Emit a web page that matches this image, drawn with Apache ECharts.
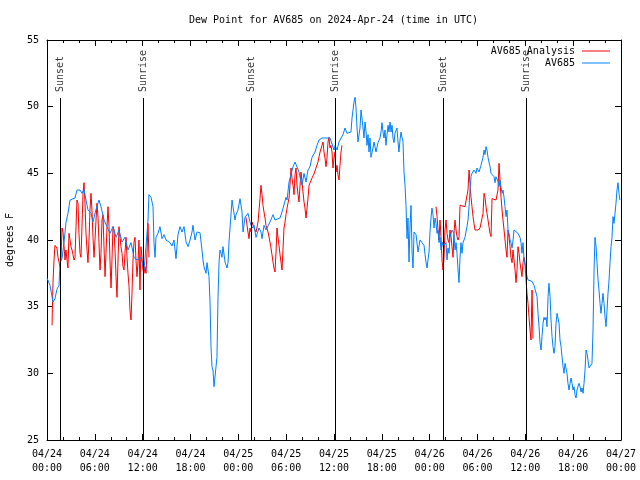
<!DOCTYPE html>
<html><head><meta charset="utf-8">
<script src="https://cdn.jsdelivr.net/npm/echarts@6/dist/echarts.min.js"></script>
<style>html,body{margin:0;padding:0;background:#fff}#c{width:640px;height:480px}</style>
</head><body><div id="c"></div>
<script>
// Hours since 2024-04-24 00:00 UTC
const blueHours = [0,0.38,0.75,1.0,1.25,1.51,1.63,1.88,2.13,2.38,2.63,2.89,3.14,3.51,3.76,4.14,4.39,4.64,4.89,5.14,5.52,5.77,6.15,6.52,6.77,7.15,7.53,7.90,8.28,8.66,9.03,9.41,9.78,10.16,10.54,10.91,11.29,11.79,12.17,12.42,12.67,12.79,13.05,13.30,13.42,13.55,13.67,13.92,14.17,14.43,14.68,14.93,15.43,15.68,15.93,16.18,16.43,16.68,16.93,17.19,17.44,17.69,17.94,18.19,18.31,18.57,18.82,19.19,19.44,19.57,19.69,19.95,20.07,20.32,20.45,20.57,20.70,20.82,20.95,21.20,21.32,21.45,21.58,21.70,21.83,21.95,22.08,22.33,22.58,22.71,22.83,23.08,23.21,23.46,23.58,23.71,23.96,24.21,24.46,24.59,24.84,25.21,25.46,25.72,25.97,26.22,26.59,26.84,26.97,27.22,27.47,27.72,27.97,28.35,28.60,28.73,29.23,29.48,29.73,29.98,30.11,30.36,30.61,30.86,31.11,31.36,31.61,31.74,31.99,32.24,32.49,32.74,32.99,33.24,33.62,33.87,34.12,34.50,35.50,35.75,36.0,36.13,36.38,36.63,36.88,37.13,37.38,37.63,37.88,38.13,38.26,38.51,38.64,38.76,38.89,39.01,39.26,39.39,39.51,39.64,39.76,39.89,40.02,40.14,40.27,40.39,40.52,40.64,40.89,41.02,41.27,41.52,41.77,41.90,42.02,42.15,42.27,42.40,42.52,42.65,42.78,42.90,43.03,43.15,43.28,43.40,43.53,43.65,43.90,44.03,44.15,44.28,44.41,44.53,44.66,44.78,44.91,45.03,45.16,45.28,45.41,45.53,45.66,45.79,45.91,46.04,46.29,46.54,46.79,47.04,47.29,47.42,47.54,47.67,47.79,47.92,48.04,48.17,48.29,48.42,48.55,48.67,48.80,48.92,49.05,49.17,49.30,49.42,49.67,49.80,50.05,50.18,50.30,50.43,50.55,50.80,51.05,51.18,51.31,51.43,51.56,51.68,51.81,51.93,52.06,52.18,52.43,52.68,52.81,52.94,53.06,53.19,53.31,53.56,53.81,53.94,54.19,54.32,54.44,54.57,54.69,54.82,54.94,55.07,55.19,55.32,55.44,55.57,55.70,55.82,56.07,56.20,56.32,56.57,56.70,56.82,56.95,57.08,57.20,57.33,57.45,57.58,57.70,57.83,57.95,58.08,58.20,58.33,58.46,58.58,58.83,59.08,59.33,59.46,59.58,59.71,59.84,60.09,60.21,60.34,60.59,60.84,61.09,61.21,61.34,61.47,61.59,61.72,61.84,61.97,62.09,62.22,62.34,62.47,62.60,62.72,62.85,62.97,63.10,63.22,63.35,63.47,63.60,63.72,63.85,63.98,64.10,64.23,64.35,64.48,64.60,64.73,64.85,64.98,65.10,65.23,65.35,65.48,65.61,65.73,65.86,65.98,66.11,66.23,66.36,66.48,66.61,66.73,66.86,66.99,67.11,67.24,67.36,67.49,67.61,67.74,67.86,67.99,68.11,68.24,68.36,68.49,68.62,68.74,68.87,68.99,69.12,69.24,69.37,69.49,69.62,69.74,69.87,70.0,70.12,70.25,70.37,70.50,70.62,70.75,70.87,71.0,71.12,71.25,71.37,71.50,71.62,71.75,71.87];
const blueValues = [37.15,36.6,35.35,35.6,36.3,36.6,38.3,38.6,39.8,41.3,42.0,43.0,43.0,43.15,43.75,43.75,43.5,43.8,43.0,42.25,42.0,41.35,42.3,43.0,42.5,41.5,41.0,40.5,41.0,40.2,40.75,39.85,40.2,39.25,39.8,38.7,38.5,38.7,37.75,39.5,41.5,43.4,43.2,42.5,39.8,38.7,40.2,40.5,41.0,40.1,40.4,40.0,39.8,39.55,40.0,38.6,40.4,41.0,40.6,41.0,39.85,39.5,40.0,40.6,41.1,40.0,40.6,40.55,39.25,38.5,38.0,37.5,38.3,37.25,35.3,32.0,30.5,30.25,29.0,29.0,31.2,35.7,38.3,39.25,39.0,38.7,39.5,38.35,37.9,38.3,39.85,41.9,43.0,42.85,41.5,41.9,42.25,43.1,42.1,40.6,41.7,42.0,41.35,40.9,41.1,40.2,40.9,40.6,40.1,41.1,40.75,40.9,41.35,41.9,41.5,41.65,41.65,42.1,42.25,43.2,43.0,44.35,44.9,45.5,45.85,45.9,45.1,44.7,44.1,45.0,44.35,45.25,45.5,46.2,46.6,47.1,47.5,47.65,47.65,47.65,46.75,47.1,46.75,47.35,47.65,47.9,48.4,48.0,47.9,48.1,49.15,50.35,50.7,49.9,48.4,47.35,48.4,49.75,49.15,48.4,47.65,48.85,48.1,47.1,47.9,46.6,47.65,46.2,46.9,47.35,46.6,47.3,47.65,48.1,48.8,48.1,47.65,48.25,47.1,47.9,48.6,48.1,48.85,48.1,48.6,47.65,47.3,48.0,48.4,47.35,46.6,47.5,48.1,47.7,47.35,45.1,44.1,42.6,40.1,41.65,38.35,40.9,42.6,39.1,37.9,40.6,40.4,39.1,40.0,39.85,39.6,38.9,38.35,37.9,38.5,39.1,40.6,41.65,42.4,41.9,40.9,41.65,41.25,40.5,40.75,39.8,40.2,39.25,39.85,39.6,39.8,38.5,39.4,39.0,40.2,40.75,40.5,39.25,39.8,39.0,37.75,36.8,38.7,39.8,39.0,39.8,40.2,41.0,41.5,42.5,43.75,44.75,45.0,45.25,45.0,45.4,45.1,45.25,45.6,45.75,46.2,46.75,46.4,47.0,46.75,46.2,45.85,45.5,45.0,45.0,44.75,44.3,44.75,44.4,44.0,44.5,44.5,43.5,43.75,43.2,42.5,41.75,42.25,40.75,40.5,40.0,39.8,39.4,40.0,40.75,40.75,40.5,40.2,39.8,39.0,39.8,38.5,37.75,37.25,37.0,37.0,36.9,36.6,36.5,36.75,35.75,34.5,33.5,32.3,31.75,32.75,33.75,34.2,34.0,34.2,33.5,35.75,36.75,35.75,34.0,32.75,32.0,31.5,32.0,33.75,34.5,34.5,33.75,32.5,32.0,31.25,30.5,30.0,30.75,30.4,30.0,29.25,28.75,29.25,29.65,29.25,28.75,29.0,28.4,28.15,28.75,28.9,29.25,29.0,28.6,28.9,28.5,29.25,30.25,31.75,31.5,31.0,30.4,30.25,30.25,30.75,33.25,37.75,40.2,39.5,38.3,37.0,36.25,35.25,34.5,35.25,36.0,35.25,34.2,33.5,34.75,36.0,37.0,38.3,39.5,40.2,41.75,41.25,42.0,42.75,43.75,44.3,43.5,43.0];

// null value = gap between analysis segments
const redHours = [0.63,0.75,0.88,1.0,1.25,1.38,1.51,1.63,1.76,1.88,2.01,2.13,2.26,2.38,2.51,2.63,2.76,2.89,3.01,3.14,3.26,3.39,3.51,3.64,3.76,3.89,4.01,4.14,4.26,4.39,4.52,4.64,4.77,4.89,5.02,5.14,5.27,5.39,5.52,5.64,5.77,5.90,6.02,6.15,6.27,6.40,6.52,6.65,6.77,6.90,7.02,7.15,7.28,7.40,7.53,7.65,7.78,7.90,8.03,8.15,8.28,8.41,8.53,8.66,8.78,8.91,9.03,9.16,9.28,9.41,9.53,9.66,9.78,9.91,10.04,10.16,10.29,10.41,10.54,10.66,10.79,10.91,11.04,11.16,11.29,11.41,11.54,11.66,11.79,11.91,12.04,12.17,12.29,12.42,12.54,12.67,12.79,
 18.0,
 24.96,25.09,25.21,25.34,25.46,25.59,25.72,25.97,26.22,26.47,26.72,26.84,26.97,27.09,27.22,27.35,27.47,27.72,27.97,28.10,28.22,28.35,28.47,28.60,28.73,28.85,28.98,29.10,29.23,29.35,29.48,29.61,29.73,29.86,29.98,30.11,30.36,30.48,30.61,30.73,30.86,30.99,31.11,31.24,31.36,31.49,31.61,31.74,31.86,31.99,32.11,32.24,32.36,32.49,32.62,32.74,32.87,32.99,33.24,33.49,33.74,33.99,34.25,34.50,34.62,34.75,34.87,35.00,35.12,35.25,35.37,35.50,35.62,35.75,35.87,36.00,36.13,36.25,36.38,36.50,36.63,36.75,36.88,37.00,
 43.0,
 48.80,48.92,49.05,49.17,49.30,49.42,49.55,49.67,49.80,49.92,50.05,50.18,50.30,50.43,50.55,50.68,50.80,50.93,51.05,51.18,51.31,51.43,51.56,51.68,51.81,52.43,52.68,52.81,52.94,53.06,53.19,53.31,53.44,53.56,53.69,53.81,54.06,54.32,54.57,54.69,54.82,54.94,55.07,55.19,55.32,55.44,55.57,55.70,55.82,56.07,56.32,56.45,56.57,56.70,56.82,56.95,57.08,57.20,57.33,57.45,57.58,57.70,57.83,57.95,58.08,58.20,58.33,58.46,58.58,58.71,58.83,58.96,59.08,59.21,59.33,59.46,59.58,59.71,59.84,59.96,60.09,60.21,60.34,60.46,60.59,60.71,60.84,60.96];
const redValues = [33.6,36.8,38.5,39.6,39.4,38.7,38.35,38.0,38.6,40.9,40.6,39.6,38.5,39.25,38.5,37.9,40.5,40.0,39.5,39.25,38.9,38.5,38.7,41.0,43.0,42.75,40.5,39.0,38.7,41.0,43.5,44.3,42.75,40.5,39.25,38.3,40.0,42.25,43.5,42.25,40.2,38.7,40.0,41.5,42.75,41.7,39.8,37.75,39.0,41.5,41.9,39.5,37.25,39.0,41.0,42.5,41.0,38.5,36.4,38.5,41.0,40.75,39.25,37.25,35.7,38.5,41.0,40.2,39.5,39.0,38.0,37.75,39.0,40.2,38.7,37.5,36.5,34.75,34.0,36.0,38.5,39.8,40.2,38.5,37.25,38.25,40.0,36.25,39.5,38.7,37.75,37.5,38.0,37.5,39.0,41.25,38.7,
 null,
 41.7,41.1,40.6,40.1,40.9,40.6,41.35,40.9,40.6,41.35,43.1,44.1,43.4,42.6,42.1,41.65,41.1,40.6,39.85,39.4,38.9,38.35,37.9,37.6,39.1,40.9,40.15,39.6,38.9,38.35,37.75,39.4,40.9,41.35,41.9,42.4,43.15,44.1,45.4,44.65,44.1,43.4,44.9,45.4,44.1,43.4,42.85,44.1,45.1,44.35,43.6,42.85,42.4,41.65,42.4,43.15,44.1,44.25,44.65,44.95,45.4,45.85,46.6,47.1,47.35,46.6,46.15,45.5,46.15,47.35,47.7,46.9,47.1,46.6,45.4,46.15,46.6,45.1,45.6,44.9,44.5,45.6,46.6,47.1,
 null,
 42.5,41.75,40.75,40.0,41.5,40.25,38.5,37.75,38.7,40.75,41.5,40.5,40.0,39.8,40.75,40.25,39.5,38.7,40.5,41.5,40.75,40.25,40.0,40.25,42.6,42.5,42.4,43.75,45.25,44.25,43.2,42.5,41.75,41.25,40.75,40.6,40.75,40.9,41.0,42.0,43.5,43.2,42.5,42.0,41.5,41.0,40.5,40.25,43.1,43.1,43.0,43.0,43.75,45.75,44.5,43.2,42.25,41.5,40.75,40.0,39.25,38.7,40.75,40.25,39.5,38.7,38.3,39.25,38.5,37.75,36.8,37.75,39.5,39.0,38.3,37.75,37.25,38.3,38.7,38.3,37.0,36.0,35.25,34.2,33.25,32.5,36.25,32.6];

const sunNames = ['Sunset','Sunrise','Sunset','Sunrise','Sunset','Sunrise'];
const sunHours = [1.72, 12.08, 25.63, 36.17, 49.72, 60.09];
const sunLineTop = 50.65;
const sunLabelY = 51.1;

const yTicks = [25,30,35,40,45,50,55];
const FONT = 'DejaVu Sans Mono';

function zip(xs, ys){ return xs.map((x,i)=>[x, ys[i]]); }

const chart = echarts.init(document.getElementById('c'), null, {renderer:'canvas'});
const baseDay = 24;
function xLabel(h){
  const d = baseDay + Math.floor(h/24);
  const hh = Math.round(h % 24);
  return '04/' + String(d).padStart(2,'0') + '\n' + String(hh).padStart(2,'0') + ':00';
}
const tickCommon = {show:true, inside:true, length:6, lineStyle:{color:'#000'}};
const minorCommon = {show:true, splitNumber:3, length:3, lineStyle:{color:'#000'}};

chart.setOption({
  animation:false,
  backgroundColor:'#fff',
  textStyle:{fontFamily:FONT, color:'#000'},
  title:{text:'Dew Point for AV685 on 2024-Apr-24 (time in UTC)', left:184, top:10,
    textStyle:{fontFamily:FONT, fontSize:10, fontWeight:'normal', color:'#000'}},
  legend:{orient:'vertical', right:25, top:41, align:'right', itemGap:2, itemWidth:28, itemHeight:1,
    icon:'rect', data:['AV685 Analysis','AV685'], selectedMode:false,
    textStyle:{fontFamily:FONT, fontSize:10, color:'#000', padding:[0,2,0,0]}},
  grid:{left:47, right:19, top:40, bottom:40, containLabel:false, outerBoundsMode:'none', show:false},
  xAxis:[
    {type:'value', min:0, max:72, interval:6, position:'bottom',
     axisLine:{show:true, onZero:false, lineStyle:{color:'#000'}},
     axisTick:tickCommon, minorTick:minorCommon, splitLine:{show:false},
     axisLabel:{formatter:xLabel, fontFamily:FONT, fontSize:10, color:'#000', lineHeight:14, margin:7}},
    {type:'value', min:0, max:72, interval:6, position:'top',
     axisLine:{show:true, onZero:false, lineStyle:{color:'#000'}},
     axisTick:tickCommon, minorTick:minorCommon, splitLine:{show:false}, axisLabel:{show:false}}
  ],
  yAxis:[
    {type:'value', min:yTicks[0], max:yTicks[yTicks.length-1], interval:5, position:'left',
     name:'degrees F', nameLocation:'middle', nameGap:32, nameRotate:90,
     nameTextStyle:{fontFamily:FONT, fontSize:10, color:'#000'},
     axisLine:{show:true, onZero:false, lineStyle:{color:'#000'}},
     axisTick:{show:true, inside:true, length:6, lineStyle:{color:'#000'}}, splitLine:{show:false},
     axisLabel:{fontFamily:FONT, fontSize:10, color:'#000', margin:8}},
    {type:'value', min:yTicks[0], max:yTicks[yTicks.length-1], interval:5, position:'right',
     axisLine:{show:true, onZero:false, lineStyle:{color:'#000'}},
     axisTick:{show:true, inside:true, length:6, lineStyle:{color:'#000'}}, splitLine:{show:false},
     axisLabel:{show:false}}
  ],
  series:[
    {name:'AV685 Analysis', type:'line', data:zip(redHours, redValues), showSymbol:false, symbol:'none',
     connectNulls:false, color:'#ff0000', lineStyle:{width:1, color:'#ff0000'}},
    {name:'AV685', type:'line', data:zip(blueHours, blueValues), showSymbol:false, symbol:'none',
     color:'#0080ff', lineStyle:{width:1, color:'#0080ff'}},
    {name:'sun', type:'scatter', symbolSize:0, silent:true,
     data:sunHours.map((h,i)=>({value:[h, sunLabelY], name:sunNames[i]})),
     label:{show:true, formatter:p=>p.name, rotate:90, position:'inside', align:'left', verticalAlign:'middle',
       fontFamily:FONT, fontSize:10, color:'#000'},
     markLine:{silent:true, symbol:['none','none'], label:{show:false},
       lineStyle:{color:'#000', width:1, type:'solid'},
       data:sunHours.map(h=>[{coord:[h, yTicks[0]]},{coord:[h, sunLineTop]}])}}
  ]
});
</script></body></html>
